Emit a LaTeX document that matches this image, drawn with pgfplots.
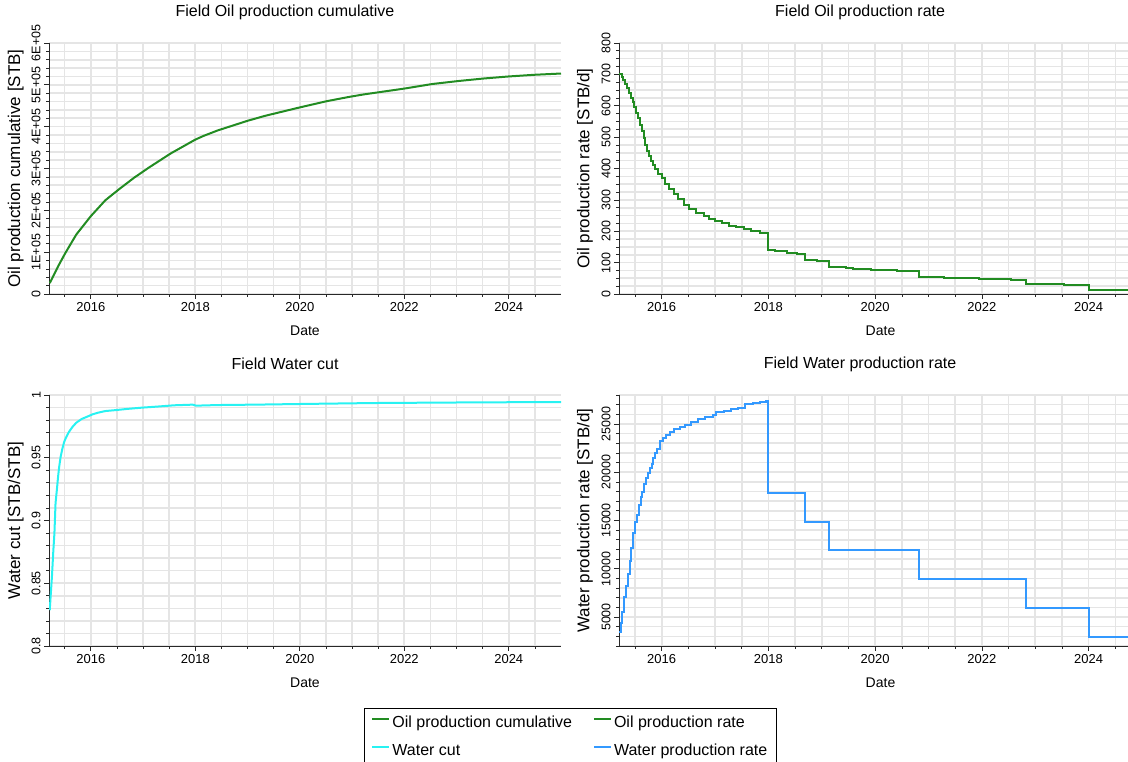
\documentclass[border=0pt]{standalone}
\usepackage{fontspec}
\setmainfont{Liberation Sans}
\usepackage{pgfplots}
\pgfplotsset{compat=1.18}

\definecolor{oilgreen}{RGB}{34,140,34}
\definecolor{cutcyan}{RGB}{40,242,242}
\definecolor{waterblue}{RGB}{51,153,255}
\definecolor{gridline}{RGB}{229,229,229}
\definecolor{axisdark}{RGB}{40,40,40}

\pgfplotsset{
  panel/.style={
    scale only axis,
    anchor=south west,
    xmin=2015.2, xmax=2025,
    axis lines*=left,
    axis line style={-, draw=axisdark, line width=0.9bp},
    xtick={2016,2018,2020,2022,2024},
    xticklabels={2016,2018,2020,2022,2024},
    minor xtick={2015.5,2016,2016.5,2017,2017.5,2018,2018.5,2019,2019.5,2020,2020.5,2021,2021.5,2022,2022.5,2023,2023.5,2024,2024.5},
    grid=both,
    major grid style={draw=gridline, line width=1.6bp},
    minor grid style={draw=gridline, line width=1.6bp},
    tick align=outside,
    major tick length=5bp, minor tick length=3bp,
    tick style={draw=axisdark, line width=0.7bp},
    scaled y ticks=false,
    /pgf/number format/assume math mode=true,
    xticklabel style={font=\fontsize{13bp}{15bp}\selectfont},
    yticklabel style={rotate=90, anchor=south, font=\fontsize{12.5bp}{15bp}\selectfont},
    xlabel=Date,
    xlabel style={at={(axis description cs:0.5,-0.147)}, anchor=center,
      font=\fontsize{14bp}{16bp}\selectfont},
    ylabel style={at={(axis description cs:-0.065,0.5)}, anchor=center,
      font=\fontsize{17bp}{19bp}\selectfont},
    title style={at={(axis description cs:0.461,1)}, anchor=center, yshift=25bp,
      font=\fontsize{16bp}{18bp}\selectfont},
  },
  oilstyle/.style={draw=oilgreen, line width=2bp},
  cutstyle/.style={draw=cutcyan, line width=2bp},
  waterstyle/.style={draw=waterblue, line width=2bp},
}

\begin{document}
\begin{tikzpicture}[x=1bp,y=1bp]
\useasboundingbox (0,0) rectangle (1128,762);
\clip (0,0) rectangle (1128,762);

% Cumulative oil
\begin{axis}[panel, at={(49bp,468bp)}, width=512bp, height=251bp,
  title={Field Oil production cumulative},
  ylabel={Oil production cumulative [STB]},
  ymin=0, ymax=600000,
  ytick={0,100000,200000,300000,400000,500000,600000},
  yticklabels={0,1E+05,2E+05,3E+05,4E+05,5E+05,6E+05},
  minor y tick num=4]
\addplot[oilstyle] table {
x y
2015.214 26000
2015.374 66000
2015.513 98000
2015.722 142000
2016.000 186000
2016.278 224000
2016.557 252000
2016.830 278000
2017.110 302000
2017.530 336000
2018.000 369000
2018.160 378000
2018.430 391000
2019.000 414000
2019.340 426000
2020.000 446000
2020.520 461000
2020.940 471000
2021.220 477000
2021.500 482000
2022.000 491000
2022.540 502000
2023.030 509000
2023.510 515000
2024.000 520000
2024.490 524000
2025.000 527000
};
\end{axis}

% Oil rate
\begin{axis}[panel, at={(619bp,468bp)}, width=523bp, height=251bp,
  title={Field Oil production rate},
  ylabel={Oil production rate [STB/d]},
  ymin=0, ymax=800,
  ytick={0,100,200,300,400,500,600,700,800},
  yticklabels={0,100,200,300,400,500,600,700,800},
  minor y tick num=3]
\addplot[oilstyle, const plot] table {
x y
2015.200 700
2015.249 690
2015.283 681
2015.317 670
2015.352 656
2015.386 641
2015.420 626
2015.454 611
2015.488 595
2015.522 576
2015.556 560
2015.590 540
2015.625 520
2015.659 498
2015.693 475
2015.727 456
2015.761 440
2015.795 425
2015.829 410
2015.877 398
2015.932 384
2016.000 370
2016.068 352
2016.137 335
2016.239 318
2016.307 302
2016.410 285
2016.512 271
2016.648 258
2016.785 248
2016.887 240
2016.990 232
2017.126 225
2017.263 218
2017.399 212
2017.536 206
2017.672 200
2017.843 194
2018.000 140
2018.116 136
2018.355 132
2018.526 128
2018.680 108
2018.901 105
2019.140 85
2019.447 83
2019.584 80
2019.925 78
2020.130 76
2020.403 74
2020.826 55
2021.290 52
2021.939 49
2022.553 46
2022.826 32
2023.543 29
2024.000 13
2025.000 13
};
\end{axis}

% Water cut
\begin{axis}[panel, at={(49bp,116bp)}, width=512bp, height=251bp,
  title={Field Water cut},
  ylabel={Water cut [STB/STB]},
  ymin=0.8, ymax=1,
  ytick={0.8,0.85,0.9,0.95,1},
  yticklabels={0.8,0.85,0.9,0.95,1},
  minor y tick num=4]
\addplot[cutstyle] table {
x y
2015.214 0.8285
2015.235 0.8420
2015.256 0.8550
2015.283 0.8760
2015.304 0.8900
2015.325 0.9136
2015.353 0.9255
2015.374 0.9350
2015.395 0.9428
2015.423 0.9508
2015.457 0.9574
2015.492 0.9628
2015.527 0.9662
2015.583 0.9707
2015.652 0.9747
2015.722 0.9779
2015.826 0.9809
2015.930 0.9827
2016.035 0.9846
2016.139 0.9859
2016.278 0.9872
2016.487 0.9880
2016.696 0.9889
2016.974 0.9899
2017.252 0.9907
2017.600 0.9918
2017.948 0.9923
2018.017 0.9915
2018.435 0.9920
2019.130 0.9923
2019.965 0.9928
2021.426 0.9936
2023.304 0.9941
2025.000 0.9944
};
\end{axis}

% Water rate, with the shared legend
\begin{axis}[panel, at={(619bp,116bp)}, width=523bp, height=251bp,
  title={Field Water production rate},
  ylabel={Water production rate [STB/d]},
  ymin=2000, ymax=28000,
  ytick={5000,10000,15000,20000,25000},
  yticklabels={5000,10000,15000,20000,25000},
  minor ytick={2000,3000,4000,5000,6000,7000,8000,9000,10000,11000,12000,13000,14000,15000,16000,17000,18000,19000,20000,21000,22000,23000,24000,25000,26000,27000,28000},
  legend columns=2,
  legend cell align=left,
  legend style={at={(axis description cs:-0.4876,-0.247)}, anchor=north west,
    draw=black, line width=0.8bp, font=\fontsize{16bp}{18bp}\selectfont,
    inner xsep=7bp, inner ysep=5bp, row sep=9bp,
    nodes={inner sep=2bp, text height=12bp, text depth=3.5bp},
    /tikz/column 2/.style={column sep=19bp}},
  legend image code/.code={\draw[#1] (0bp,4.5bp) -- (17bp,4.5bp);}]
\addlegendimage{oilstyle}
\addlegendentry{Oil production cumulative}
\addlegendimage{oilstyle}
\addlegendentry{Oil production rate}
\addlegendimage{cutstyle}
\addlegendentry{Water cut}
\addplot[waterstyle, const plot] table {
x y
2015.195 3400
2015.229 4400
2015.263 5500
2015.297 7100
2015.331 8200
2015.365 9500
2015.399 10800
2015.433 12100
2015.468 13700
2015.502 14800
2015.536 15600
2015.570 16600
2015.604 17400
2015.638 18000
2015.672 18800
2015.706 19400
2015.741 19900
2015.775 20400
2015.809 20900
2015.843 21500
2015.877 22000
2015.911 22400
2015.966 23200
2016.020 23500
2016.082 23900
2016.150 24200
2016.239 24500
2016.341 24700
2016.444 24900
2016.546 25200
2016.683 25500
2016.819 25700
2016.956 25900
2017.024 26200
2017.160 26300
2017.297 26600
2017.433 26700
2017.570 27100
2017.706 27200
2017.843 27300
2017.945 27400
2018.000 17800
2018.680 14800
2019.140 11900
2020.826 8900
2022.826 5900
2024.000 2900
2025.000 2900
};
\addlegendentry{Water production rate}
\end{axis}
\end{tikzpicture}
\end{document}
